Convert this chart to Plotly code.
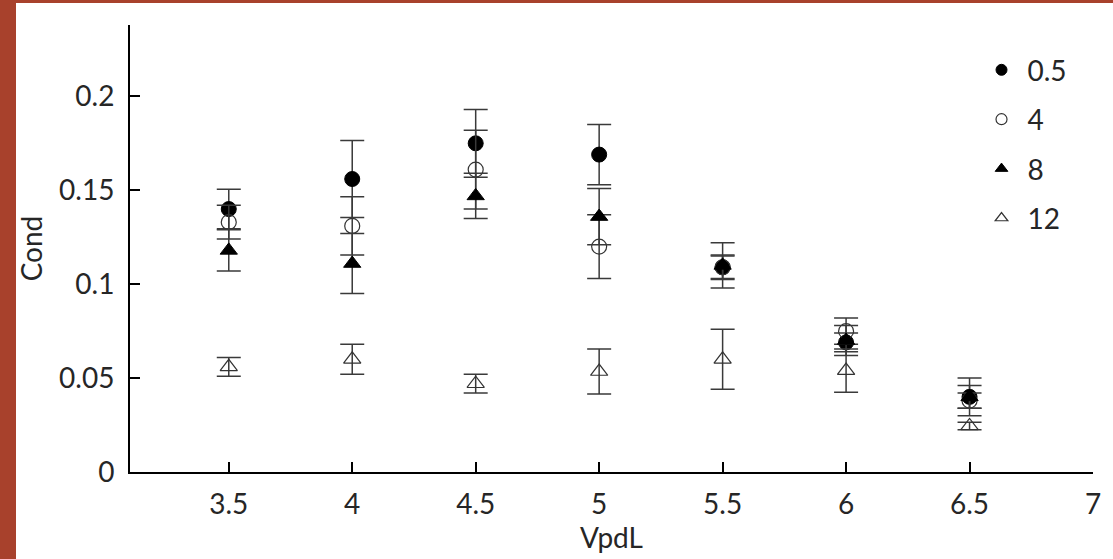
import plotly.graph_objects as go

# ---- data ----
vpdl = [3.5, 4, 4.5, 5, 5.5, 6, 6.5]

cond_05 = [0.140, 0.156, 0.175, 0.169, 0.109, 0.069, 0.040]
err_05 = [0.0105, 0.0205, 0.018, 0.016, 0.0065, 0.005, 0.010]

cond_4 = [0.133, 0.131, 0.161, 0.120, 0.109, 0.075, 0.038]
err_4 = [0.009, 0.0155, 0.021, 0.017, 0.006, 0.007, 0.004]

cond_8 = [0.118, 0.111, 0.147, 0.136, 0.110, 0.070, 0.040]
err_8 = [0.011, 0.016, 0.012, 0.015, 0.012, 0.008, 0.006]

cond_12 = [0.056, 0.060, 0.047, 0.0535, 0.060, 0.054, 0.0245]
err_12 = [0.005, 0.008, 0.005, 0.012, 0.016, 0.0115, 0.002]

series_names = ["0.5", "4", "8", "12"]
x_ticks = [3.5, 4, 4.5, 5, 5.5, 6, 6.5, 7]
y_ticks = [0, 0.05, 0.1, 0.15, 0.2]
y_tick_text = ["0", "0.05", "0.1", "0.15", "0.2"]

FONT = "Lato, 'Open Sans', sans-serif"
TXT = "#262626"
ERR_COLOR = "#3a3a3a"
FS = 28

styles = [
    dict(symbol="circle", color="black", line=dict(color="black", width=1)),
    dict(symbol="circle-open", color="#333333", line=dict(color="#333333", width=1.2)),
    dict(symbol="triangle-up", color="black", line=dict(color="black", width=1)),
    dict(symbol="triangle-up-open", color="#333333", line=dict(color="#333333", width=1.2)),
]

values = [cond_05, cond_4, cond_8, cond_12]
errors = [err_05, err_4, err_8, err_12]

fig = go.Figure()

for name, yv, ev, st in zip(series_names, values, errors, styles):
    fig.add_trace(go.Scatter(
        x=vpdl, y=yv, mode="markers", name=name, showlegend=False,
        marker=dict(symbol=st["symbol"], size=15, color=st["color"], line=st["line"]),
        error_y=dict(type="data", array=ev, visible=True, color=ERR_COLOR,
                     thickness=1.5, width=12),
    ))

# legend-only traces with smaller markers
for name, st in zip(series_names, styles):
    fig.add_trace(go.Scatter(
        x=[None], y=[None], mode="markers", name=name, showlegend=True,
        legendgroup=name,
        marker=dict(symbol=st["symbol"], size=11, color=st["color"], line=st["line"]),
    ))

fig.update_layout(
    width=1113, height=559,
    margin=dict(l=130, r=20, t=25, b=87),
    paper_bgcolor="white", plot_bgcolor="white",
    font=dict(family=FONT, size=FS, color=TXT),
    showlegend=True,
    legend=dict(
        x=0.878, y=0.955, xanchor="left", yanchor="top",
        bgcolor="rgba(0,0,0,0)", font=dict(size=FS, family=FONT, color=TXT),
        itemsizing="trace", tracegroupgap=10, itemwidth=42,
    ),
    xaxis=dict(
        range=[3.1, 7.0], tickvals=x_ticks, ticktext=[str(v) for v in x_ticks],
        showgrid=False, zeroline=False, showline=True, linecolor="black", linewidth=2,
        ticks="inside", ticklen=10, tickwidth=1.5, tickcolor="black",
        ticklabelstandoff=6,
        title=dict(text="VpdL", standoff=2, font=dict(size=FS, family=FONT)),
        tickfont=dict(size=FS, family=FONT),
    ),
    yaxis=dict(
        range=[0, 0.238], tickvals=y_ticks, ticktext=y_tick_text,
        showgrid=False, zeroline=False, showline=True, linecolor="black", linewidth=2,
        ticks="inside", ticklen=10, tickwidth=1.5, tickcolor="black",
        ticklabelstandoff=8,
        title=dict(text="Cond", standoff=8, font=dict(size=FS, family=FONT)),
        tickfont=dict(size=FS, family=FONT),
    ),
    shapes=[
        dict(type="rect", xref="paper", yref="paper",
             x0=-0.2, x1=(16 - 130) / 963, y0=-0.3, y1=1.2,
             fillcolor="#A8412C", line=dict(width=0), layer="above"),
        dict(type="rect", xref="paper", yref="paper",
             x0=-0.2, x1=1.1, y0=1 + 22 / 447, y1=1.2,
             fillcolor="#A8412C", line=dict(width=0), layer="above"),
    ],
)

fig.write_html(
    "out.html",
    config={"displayModeBar": False},
    post_script="document.body.style.margin='0';document.documentElement.style.margin='0';",
)
